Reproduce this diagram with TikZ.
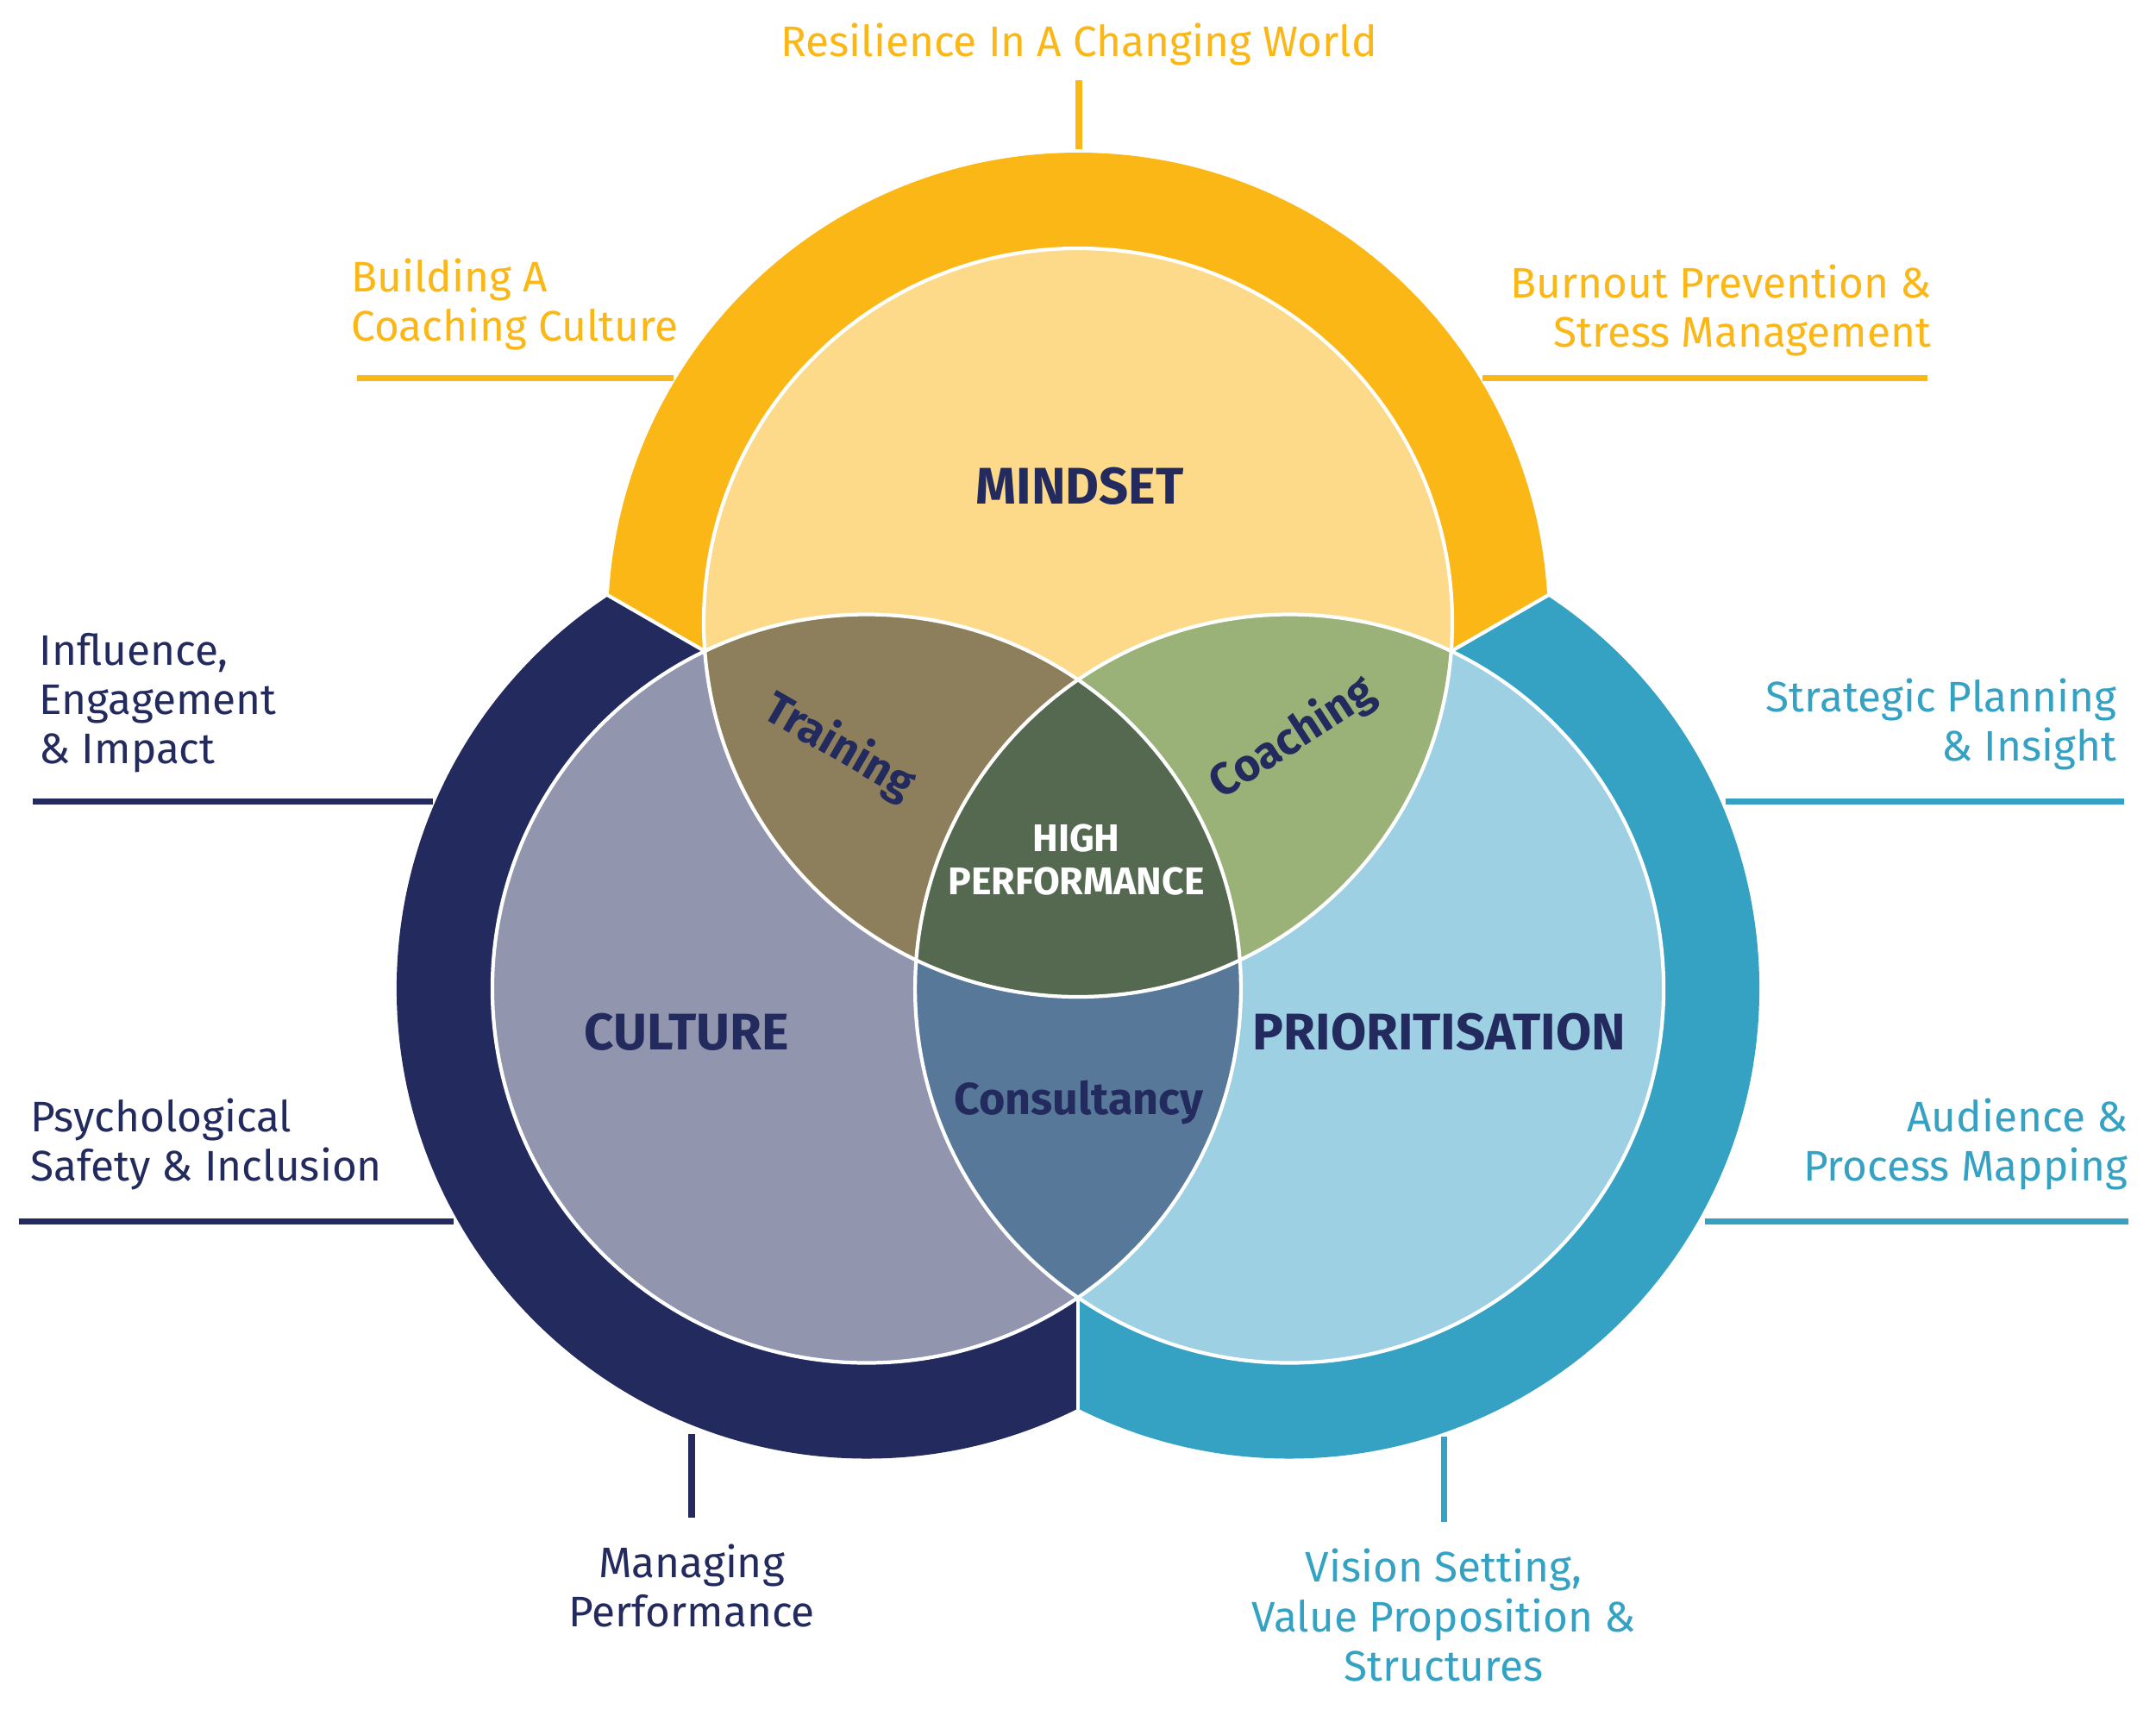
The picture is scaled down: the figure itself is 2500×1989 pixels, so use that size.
\documentclass[tikz,border=0pt]{standalone}
\usepackage{fontspec}
\setmainfont{Fira Sans}
\usepackage{xcolor}
\usetikzlibrary{calc}

\definecolor{gold}{HTML}{FBB715}
\definecolor{goldlight}{HTML}{FDD98A}
\definecolor{navy}{HTML}{232B5E}
\definecolor{navylight}{HTML}{9195AE}
\definecolor{teal}{HTML}{35A2C4}
\definecolor{teallight}{HTML}{9DD0E2}
\definecolor{trainfill}{HTML}{8D7F5B}
\definecolor{coachfill}{HTML}{9AB278}
\definecolor{consultfill}{HTML}{577899}
\definecolor{highfill}{HTML}{546950}

\begin{document}
\begin{tikzpicture}[
    x=0.1mm, y=-0.1mm,
    lbl/.style={inner sep=0pt, font=\fontsize{14.1}{16.3}\selectfont},
    leader/.style={line width=2pt},
    region/.style={inner sep=0pt, text=navy, font=\bfseries\fontsize{17}{20}\selectfont},
    lens/.style={inner sep=0pt, text=navy, font=\bfseries\fontsize{14.8}{17}\selectfont},
    edge/.style={white, line width=1.2pt}
]
    \useasboundingbox (0,0) rectangle (2500,1989);

    % centres
    \coordinate (G) at (1250,1005);
    \coordinate (cm) at ($(G)+(270:283)$);
    \coordinate (cc) at ($(G)+(150:283)$);
    \coordinate (cp) at ($(G)+(30:283)$);

    % outer rings, one sector each
    \foreach \c/\a/\col in {cm/270/gold, cc/150/navy, cp/30/teal}{
        \begin{scope}
            \clip (G) -- ($(G)+(\a-60:1000)$) -- ($(G)+(\a:2000)$) -- ($(G)+(\a+60:1000)$) -- cycle;
            \fill[\col] (\c) circle (545);
        \end{scope}
    }
    \foreach \a in {90,210,330}
        \draw[edge] (G) -- ($(G)+(\a:640)$);

    % inner circles and overlaps
    \fill[goldlight] (cm) circle (434);
    \fill[navylight] (cc) circle (434);
    \fill[teallight] (cp) circle (434);
    \begin{scope}
        \clip (cm) circle (434);
        \fill[trainfill] (cc) circle (434);
        \fill[coachfill] (cp) circle (434);
    \end{scope}
    \begin{scope}
        \clip (cc) circle (434);
        \fill[consultfill] (cp) circle (434);
    \end{scope}
    \begin{scope}
        \clip (cm) circle (434);
        \clip (cc) circle (434);
        \fill[highfill] (cp) circle (434);
    \end{scope}
    \draw[edge] (cm) circle (434) (cc) circle (434) (cp) circle (434);

    % labels inside
    \node[region] (mindset) at (1252,564) {MINDSET};
    \node[region] (culture) at (796,1197) {CULTURE};
    \node[region] (prior) at (1669,1197) {PRIORITISATION};
    \node[lens, rotate=-30] (training) at (973,866) {Training};
    \node[lens, rotate=33] (coaching) at (1499,856) {Coaching};
    \node[lens] (consult) at (1251,1279) {Consultancy};
    \node[inner sep=0pt, text=white, align=center, font=\bfseries\fontsize{12.7}{14}\selectfont]
        (high) at (1248,997) {HIGH\\PERFORMANCE};

    % outside labels
    \node[lbl, text=gold] (resil) at (1251,51) {Resilience In A Changing World};
    \node[lbl, text=gold, anchor=west, align=left] (build) at (407,353) {Building A\\Coaching Culture};
    \node[lbl, text=gold, anchor=east, align=right] (burn) at (2240,360) {Burnout Prevention \&\\Stress Management};
    \node[lbl, text=navy, anchor=west, align=left] (influ) at (45,815) {Influence,\\Engagement\\\& Impact};
    \node[lbl, text=navy, anchor=west, align=left] (psych) at (35,1327) {Psychological\\Safety \& Inclusion};
    \node[lbl, text=navy, align=center] (manage) at (802,1839) {Managing\\Performance};
    \node[lbl, text=teal, anchor=east, align=right] (strat) at (2455,840) {Strategic Planning\\\& Insight};
    \node[lbl, text=teal, anchor=east, align=right] (audience) at (2468,1327) {Audience \&\\Process Mapping};
    \node[lbl, text=teal, align=center] (vision) at (1674,1873) {Vision Setting,\\Value Proposition \&\\Structures};

    % leader lines
    \coordinate (resil-a) at (1251,93);   \coordinate (resil-b) at (1251,173);
    \coordinate (build-a) at (414,438);   \coordinate (build-b) at (781,438);
    \coordinate (burn-a) at (1719,438);   \coordinate (burn-b) at (2235,438);
    \coordinate (influ-a) at (38,929);    \coordinate (influ-b) at (502,929);
    \coordinate (psych-a) at (22,1416);   \coordinate (psych-b) at (526,1416);
    \coordinate (manage-a) at (802,1663); \coordinate (manage-b) at (802,1760);
    \coordinate (strat-a) at (2001,929);  \coordinate (strat-b) at (2463,929);
    \coordinate (aud-a) at (1977,1416);   \coordinate (aud-b) at (2468,1416);
    \coordinate (vision-a) at (1674,1666); \coordinate (vision-b) at (1674,1765);

    \draw[leader, gold] (resil-a) -- (resil-b);
    \draw[leader, gold] (build-a) -- (build-b);
    \draw[leader, gold] (burn-a) -- (burn-b);
    \draw[leader, navy] (influ-a) -- (influ-b);
    \draw[leader, navy] (psych-a) -- (psych-b);
    \draw[leader, navy] (manage-a) -- (manage-b);
    \draw[leader, teal] (strat-a) -- (strat-b);
    \draw[leader, teal] (aud-a) -- (aud-b);
    \draw[leader, teal] (vision-a) -- (vision-b);
\end{tikzpicture}
\end{document}
